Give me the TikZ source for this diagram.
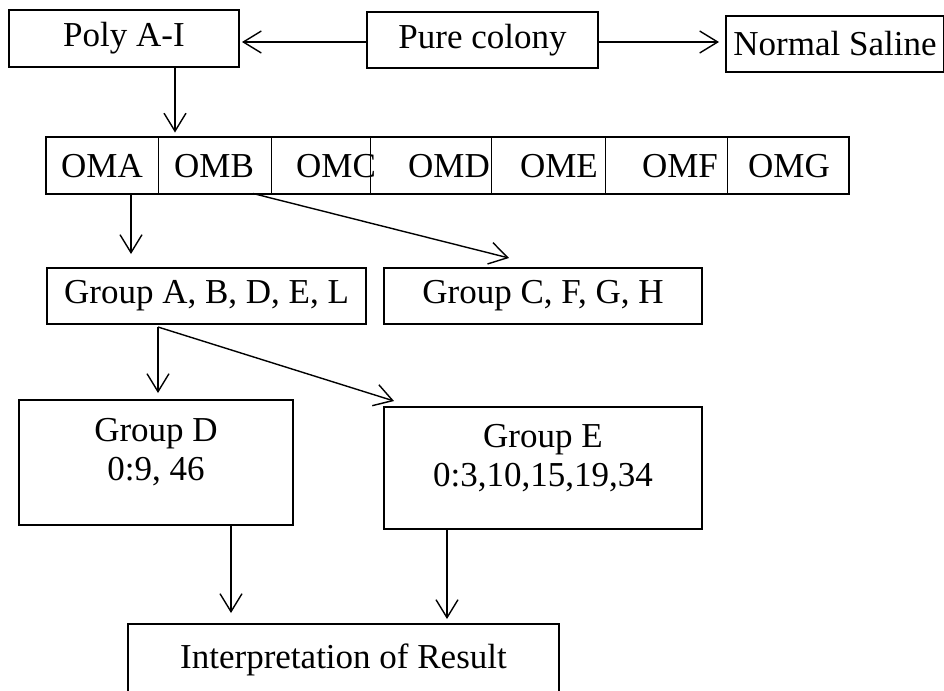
\documentclass[tikz,border=0pt]{standalone}
\usepackage{fontspec}
\setmainfont{Liberation Serif}
\usetikzlibrary{arrows.meta}

\begin{document}
\begin{tikzpicture}[x=0.5pt, y=-0.5pt,
  font=\fontsize{17.5}{19.5}\selectfont,
  box/.style={draw, line width=1pt, inner sep=0pt},
  cell/.style={draw, line width=0.5pt, minimum height=28pt, inner sep=0pt},
  arr/.style={-{Straight Barb[length=9pt,width=11pt]}, line width=0.7pt}]
\useasboundingbox (0,0) rectangle (944,691);

% top row
\node[box, minimum width=115pt, minimum height=28.5pt] (poly) at (124,38.5) {Poly A-I};
\node[box, minimum width=115.5pt, minimum height=28pt] (pure) at (482.5,40) {Pure colony};
\node[box, minimum width=109pt, minimum height=28pt] (saline) at (835,44) {Normal Saline};

% the OM row, cells first then their texts
\foreach \n/\l/\r in {OMA/46/158, OMB/158/271, OMC/271/370, OMD/370/491,
                      OME/491/605, OMF/605/727, OMG/727/848}
  \node[cell, minimum width={(\r-\l)*0.5pt}] (\n) at ({(\l+\r)/2},165) {};
\foreach \n/\tx in {OMA/102, OMB/214, OMC/336, OMD/449, OME/559, OMF/680, OMG/789}
  \node (\n-txt) at (\tx,166) {\n};
\draw[line width=1pt] (OMA.north west) rectangle (OMG.south east);

% groups
\node[box, minimum width=159.5pt, minimum height=28pt] (grpA) at (206.5,296) {Group A, B, D, E, L};
\node[box, minimum width=159pt, minimum height=28pt] (grpC) at (543,296) {Group C, F, G, H};
\node[box, align=center, minimum width=137pt, text height=40.25pt, text depth=22.25pt,
      anchor=north] (grpD) at (156,399) {Group D\\0:9, 46};
\node[box, align=center, minimum width=159pt, text height=39.75pt, text depth=21.25pt,
      anchor=north] (grpE) at (543,406) {Group E\\0:3,10,15,19,34};
\node[box, minimum width=215.5pt, text height=22pt, text depth=28pt,
      anchor=north] (interp) at (343.5,623) {Interpretation of Result};

% connectors
\draw[arr, shorten >=1pt] ([yshift=-1pt]pure.west) -- ([yshift=-1pt]pure.west -| poly.east);
\draw[arr, shorten >=3pt] ([yshift=-1pt]pure.east) -- ([yshift=-1pt]pure.east -| saline.west);
\draw[arr, shorten >=2pt] ([xshift=25.5pt]poly.south) -- ([xshift=25.5pt]poly.south |- OMA.north);
\draw[arr, shorten >=6.5pt] ([xshift=14.5pt]OMA.south) -- ([xshift=14.5pt]OMA.south |- grpA.north);
\draw[arr] ([xshift=19.25pt]OMB.south) -- ([xshift=-17pt,yshift=4.5pt]grpC.north);
\draw[arr, shorten >=3pt] ([xshift=-24.25pt,yshift=-1pt]grpA.south) -- ([xshift=-24.25pt]grpA.south |- grpD.north);
\draw[arr] ([xshift=-24.25pt,yshift=-1pt]grpA.south) -- ([xshift=5.5pt,yshift=2.5pt]grpE.north west);
\draw[arr, shorten >=5pt] ([xshift=37.5pt]grpD.south) -- ([xshift=37.5pt]grpD.south |- interp.north);
\draw[arr, shorten >=2pt] ([xshift=-48pt]grpE.south) -- ([xshift=-48pt]grpE.south |- interp.north);
\end{tikzpicture}
\end{document}
